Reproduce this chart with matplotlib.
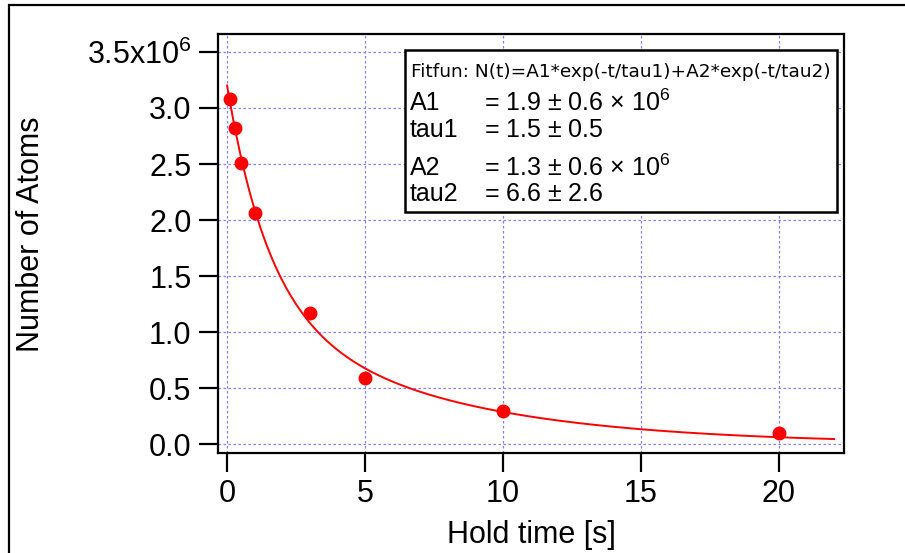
import numpy as np
from matplotlib import pyplot as plt
from matplotlib.patches import Rectangle

plt.rcParams['font.family'] = ['Liberation Sans', 'DejaVu Sans']
plt.rcParams['mathtext.fontset'] = 'custom'
plt.rcParams['mathtext.rm'] = 'Liberation Sans'
plt.rcParams['mathtext.default'] = 'regular'

# measured data
hold_time = [0.1, 0.3, 0.5, 1.0, 3.0, 5.0, 10.0, 20.0]
atoms = [3.08e6, 2.82e6, 2.51e6, 2.06e6, 1.17e6, 0.59e6, 0.297e6, 0.098e6]

# fit parameters shown in the box
A1, tau1 = 1.9e6, 1.5
A2, tau2 = 1.3e6, 6.6
fit_tmax = 22.0

x_ticks = [0, 5, 10, 15, 20]
y_ticks = [0.0, 0.5e6, 1.0e6, 1.5e6, 2.0e6, 2.5e6, 3.0e6, 3.5e6]
y_labels = ['0.0', '0.5', '1.0', '1.5', '2.0', '2.5', '3.0', r'3.5x10$^{6}$']

W, H = 905, 553
fig = plt.figure(figsize=(W / 100, H / 100), dpi=100)
fig.patch.set_facecolor('white')

# outer frame (only top and left edges visible)
fig.add_artist(Rectangle((9 / W, -0.1), 1.2, 1 - 5 / H + 0.1, transform=fig.transFigure,
                         fill=False, edgecolor='black', linewidth=1.6))

ax = fig.add_axes([218 / W, 1 - 453 / H, (844 - 218) / W, (453 - 34) / H])

t = np.linspace(0, fit_tmax, 400)
ax.plot(t, A1 * np.exp(-t / tau1) + A2 * np.exp(-t / tau2), color='red', lw=1.4, zorder=3)
ax.plot(hold_time, atoms, 'o', color='red', ms=9, zorder=4)

ax.set_xlim(-0.33, 22.36)
ax.set_ylim(-0.078e6, 3.66e6)
ax.set_xticks(x_ticks)
ax.set_yticks(y_ticks)
ax.set_yticklabels(y_labels)
ax.tick_params(direction='out', length=14, width=1.6, labelsize=22, pad=5)
ax.grid(True, color='#8080ff', ls=(0, (2, 2)), lw=0.9)
for s in ax.spines.values():
    s.set_linewidth(1.6)

ax.set_xlabel('Hold time [s]', fontsize=22, labelpad=8)
ax.set_ylabel('Number of Atoms', fontsize=22)
ax.yaxis.set_label_coords(-0.275, 0.523)

# fit result box
box = Rectangle((405 / W, 1 - 212 / H), (837 - 405) / W, (212 - 50) / H, transform=fig.transFigure,
                facecolor='white', edgecolor='black', linewidth=1.8, zorder=5)
fig.add_artist(box)
fig.text(411 / W, 1 - 72 / H, 'Fitfun: N(t)=A1*exp(-t/tau1)+A2*exp(-t/tau2)', fontsize=13.3,
         family=['DejaVu Sans'], va='center', zorder=6)
rows = [('A1', r'= 1.9 $\pm$ 0.6 $\times$ 10$^{6}$', 103),
        ('tau1', r'= 1.5 $\pm$ 0.5', 130),
        ('A2', r'= 1.3 $\pm$ 0.6 $\times$ 10$^{6}$', 168),
        ('tau2', r'= 6.6 $\pm$ 2.6', 194)]
for name, val, y in rows:
    fig.text(410 / W, 1 - y / H, name, fontsize=18, va='center', zorder=6)
    fig.text(484 / W, 1 - y / H, val, fontsize=18, va='center', zorder=6)

fig.savefig('out.png', dpi=100)
